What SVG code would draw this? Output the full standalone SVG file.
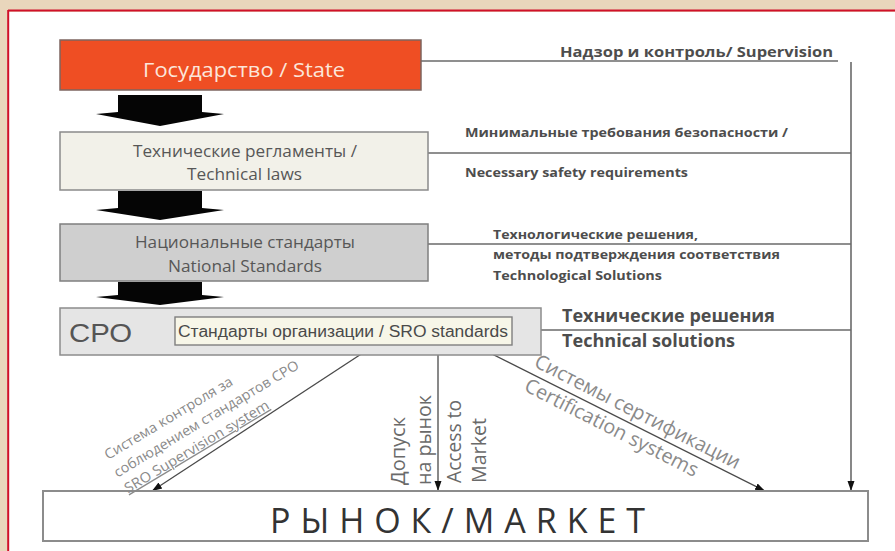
<svg xmlns="http://www.w3.org/2000/svg" width="895" height="551" viewBox="0 0 895 551">
<defs>
<style>
.box{stroke-width:1.5}
.t{font-family:"Open Sans","Noto Sans","DejaVu Sans",sans-serif}
.c{text-anchor:middle}
.dark{fill:#575757}
.bold{font-weight:bold;fill:#4d4d4d}
.rot{fill:#8a8a8a}
.vert{fill:#6a6a6a}
.ar{font-family:"Liberation Sans",Arial,sans-serif}
.ln{stroke:#4a4a4a;stroke-width:1.3;fill:none}
.hl{stroke:#6a6a6a;stroke-width:1.6;fill:none}
.fat{fill:#050505}
</style>
<marker id="ah" markerUnits="userSpaceOnUse" markerWidth="10" markerHeight="10" viewBox="0 0 10 10" refX="10" refY="5" orient="auto">
<path d="M0,1.5 L10,5 L0,8.5 Z" fill="#111"/>
</marker>
</defs>
<rect x="0" y="0" width="895" height="551" fill="#e9d6bc"/>
<rect x="9" y="12" width="886" height="539" fill="#ffffff"/>
<line x1="8" y1="10.5" x2="895" y2="10.5" stroke="#d0102a" stroke-width="2.2"/>
<line x1="8.2" y1="10" x2="8.2" y2="551" stroke="#d0102a" stroke-width="2"/>

<g id="connectors">
<path class="fat" d="M118,95 H202 V112 L224,114 L160,126 L96,114 L118,112 Z"/>
<path class="fat" d="M118,191 H202 V208 L224,210 L160,220 L96,210 L118,208 Z"/>
<path class="fat" d="M118,282 H202 V295 L224,297 L160,305 L96,297 L118,295 Z"/>
<line class="hl" x1="421" y1="61" x2="838" y2="61"/>
<line class="hl" x1="428" y1="153" x2="851" y2="153"/>
<line class="hl" x1="428" y1="244" x2="851" y2="244"/>
<line class="hl" x1="512" y1="330" x2="851" y2="330"/>
<line class="hl" x1="851" y1="62" x2="851" y2="491" marker-end="url(#ah)"/>
<line class="ln" x1="375" y1="345" x2="152" y2="491" marker-end="url(#ah)"/>
<line class="ln" x1="438" y1="345" x2="438" y2="491" marker-end="url(#ah)"/>
<line class="ln" x1="474" y1="345" x2="765" y2="491" marker-end="url(#ah)"/>
</g>

<g id="state">
<rect class="box" x="60" y="40" width="361" height="50" fill="#ef4e23" stroke="#7d6660"/>
<text class="t c" x="244" y="77" font-size="19.5" fill="#fce6da" textLength="202" lengthAdjust="spacingAndGlyphs">Государство / State</text>
</g>

<g id="techlaws">
<rect class="box" x="60" y="132" width="368" height="58" fill="#f2f1e9" stroke="#8a8a8a"/>
<text class="t c dark" x="245" y="157" font-size="16" textLength="224" lengthAdjust="spacingAndGlyphs">Технические регламенты /</text>
<text class="t c dark" x="244.5" y="180" font-size="16" textLength="115" lengthAdjust="spacingAndGlyphs">Technical laws</text>
</g>

<g id="national">
<rect class="box" x="60" y="224" width="368" height="57" fill="#cfcfcf" stroke="#7f7f7f"/>
<text class="t c dark" x="245" y="248" font-size="16" textLength="220" lengthAdjust="spacingAndGlyphs">Национальные стандарты</text>
<text class="t c dark" x="245" y="272" font-size="16" textLength="154" lengthAdjust="spacingAndGlyphs">National Standards</text>
</g>

<g id="sro">
<rect class="box" x="60" y="308" width="481" height="47" fill="#e5e5e5" stroke="#8c8c8c"/>
<text class="ar" x="69" y="342" font-size="26" fill="#555555" textLength="63" lengthAdjust="spacingAndGlyphs">СРО</text>
</g>

<g id="sro-standards">
<rect x="175" y="317" width="337" height="28" fill="#f7f6e8" stroke="#7f7f7f" stroke-width="1.4"/>
<text class="ar" x="178" y="337" font-size="16" fill="#4a4a4a" textLength="330" lengthAdjust="spacingAndGlyphs">Стандарты организации / SRO standards</text>
</g>

<g id="market">
<rect x="43" y="491" width="825" height="50" fill="#ffffff" stroke="#8c8c8c" stroke-width="2"/>
<text class="t" x="270" y="533" font-size="34" fill="#333333" textLength="375" lengthAdjust="spacing">РЫНОК/MARKET</text>
</g>

<g id="labels">
<text class="t bold" x="560" y="57" font-size="14.5" textLength="273" lengthAdjust="spacingAndGlyphs">Надзор и контроль/ Supervision</text>
<text class="t bold" x="465" y="137" font-size="12.5" textLength="323" lengthAdjust="spacingAndGlyphs">Минимальные требования безопасности /</text>
<text class="t bold" x="465" y="177" font-size="12.5" textLength="223" lengthAdjust="spacingAndGlyphs">Necessary safety requirements</text>
<text class="t bold" x="493" y="239" font-size="12.5" textLength="205" lengthAdjust="spacingAndGlyphs">Технологические решения,</text>
<text class="t bold" x="493" y="259" font-size="12.5" textLength="287" lengthAdjust="spacingAndGlyphs">методы подтверждения соответствия</text>
<text class="t bold" x="493" y="280" font-size="12.5" textLength="169" lengthAdjust="spacingAndGlyphs">Technological Solutions</text>
<text class="t bold" x="562" y="322" font-size="18" textLength="213" lengthAdjust="spacingAndGlyphs">Технические решения</text>
<text class="t bold" x="562" y="347" font-size="18" textLength="173" lengthAdjust="spacingAndGlyphs">Technical solutions</text>

<g transform="translate(108,460) rotate(-31)">
<text class="t rot" x="0" y="0" font-size="14" textLength="147" lengthAdjust="spacingAndGlyphs">Система контроля за</text>
<text class="t rot" x="-1" y="20" font-size="14" textLength="213" lengthAdjust="spacingAndGlyphs">соблюдением стандартов СРО</text>
<text class="t rot" x="0" y="39" font-size="14" text-decoration="underline" textLength="166" lengthAdjust="spacingAndGlyphs">SRO Supervision system</text>
</g>

<g transform="translate(533,366) rotate(27)">
<text class="t rot" x="0" y="0" font-size="20" textLength="228" lengthAdjust="spacingAndGlyphs">Системы сертификации</text>
<text class="t rot" x="2" y="26" font-size="20" textLength="192" lengthAdjust="spacingAndGlyphs">Certification systems</text>
</g>

<text class="t vert" transform="translate(405,485) rotate(-90)" font-size="19.5" textLength="68" lengthAdjust="spacingAndGlyphs">Допуск</text>
<text class="t vert" transform="translate(431,485) rotate(-90)" font-size="19.5" textLength="90" lengthAdjust="spacingAndGlyphs">на рынок</text>
<text class="t vert" transform="translate(461,483) rotate(-90)" font-size="19.5" textLength="83" lengthAdjust="spacingAndGlyphs">Access to</text>
<text class="t vert" transform="translate(486,483) rotate(-90)" font-size="19.5" textLength="65" lengthAdjust="spacingAndGlyphs">Market</text>
</g>
</svg>
